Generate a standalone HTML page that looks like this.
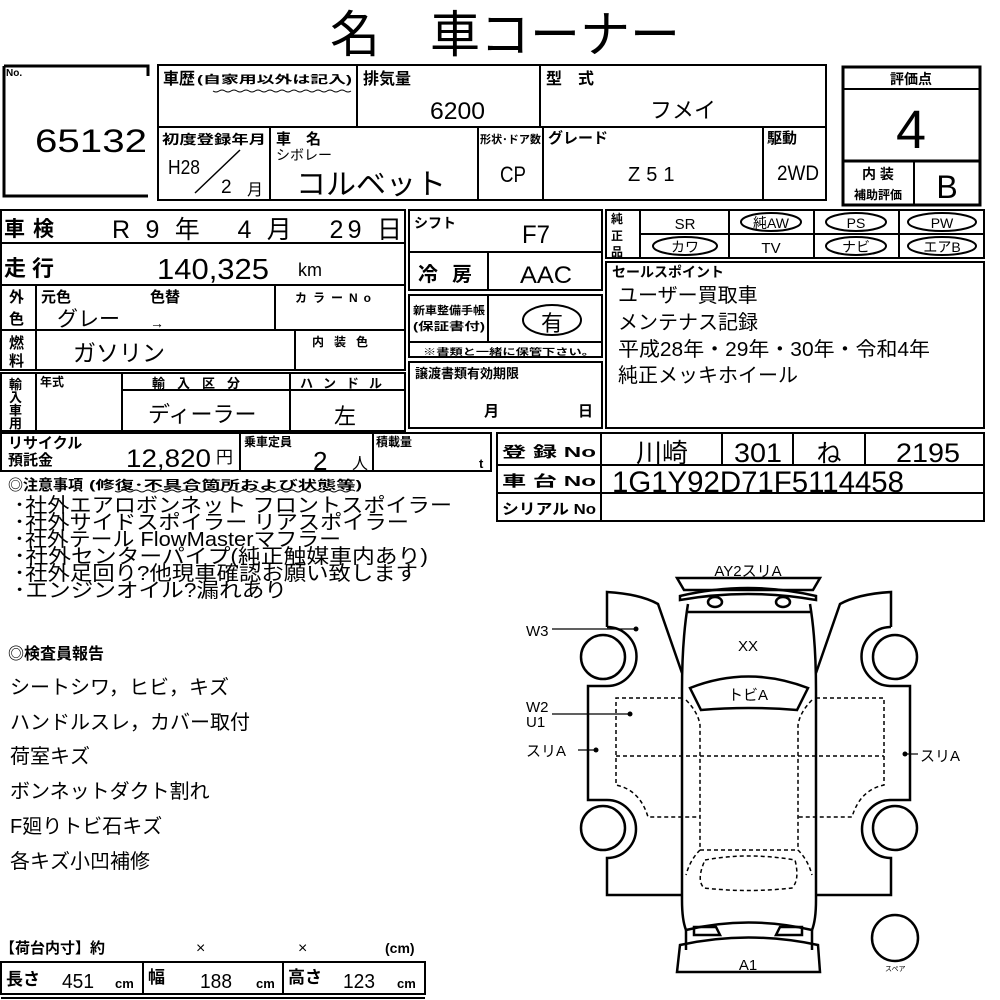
<!DOCTYPE html>
<html><head><meta charset="utf-8"><style>
html,body{margin:0;padding:0;background:#fff}
svg{display:block}
text{font-family:"Liberation Sans","Noto Sans CJK JP",sans-serif;fill:#000}
.b{font-weight:bold}
</style></head><body>
<svg width="1000" height="1000" viewBox="0 0 1000 1000" xmlns="http://www.w3.org/2000/svg">
<g fill="none" stroke="#000" stroke-width="2">
<path d="M4,66 H148 V76 M4,66 V196 H148" stroke-width="3"/>
<rect x="158" y="65" width="668" height="135"/>
<line x1="158" y1="127" x2="826" y2="127"/>
<line x1="357" y1="65" x2="357" y2="127"/>
<line x1="540" y1="65" x2="540" y2="127"/>
<line x1="270" y1="127" x2="270" y2="200"/>
<line x1="478" y1="127" x2="478" y2="200"/>
<line x1="543" y1="127" x2="543" y2="200"/>
<line x1="763" y1="127" x2="763" y2="200"/>
<line x1="195" y1="193" x2="240" y2="150" stroke-width="1.5"/>
<rect x="843" y="67" width="137" height="138" stroke-width="3"/>
<line x1="843" y1="89" x2="980" y2="89"/>
<line x1="843" y1="161" x2="980" y2="161" stroke-width="3"/>
<line x1="914" y1="161" x2="914" y2="205"/>
<rect x="1" y="210" width="404" height="160"/>
<line x1="1" y1="243" x2="405" y2="243"/>
<line x1="1" y1="285" x2="405" y2="285"/>
<line x1="1" y1="330" x2="405" y2="330"/>
<line x1="36" y1="285" x2="36" y2="370"/>
<line x1="275" y1="285" x2="275" y2="330"/>
<line x1="295" y1="330" x2="295" y2="370"/>
<rect x="1" y="373" width="404" height="58"/>
<line x1="36" y1="373" x2="36" y2="431"/>
<line x1="122" y1="373" x2="122" y2="431"/>
<line x1="290" y1="373" x2="290" y2="431"/>
<line x1="122" y1="390" x2="405" y2="390"/>
<rect x="409" y="210" width="193" height="80"/>
<line x1="409" y1="252" x2="602" y2="252"/>
<line x1="488" y1="252" x2="488" y2="290"/>
<rect x="409" y="295" width="193" height="62"/>
<line x1="409" y1="342" x2="602" y2="342"/>
<line x1="488" y1="295" x2="488" y2="342"/>
<ellipse cx="552" cy="320" rx="29" ry="15"/>
<rect x="409" y="362" width="193" height="66"/>
<rect x="606" y="210" width="378" height="48"/>
<line x1="640" y1="234" x2="984" y2="234"/>
<line x1="640" y1="210" x2="640" y2="258"/>
<line x1="729" y1="210" x2="729" y2="258"/>
<line x1="814" y1="210" x2="814" y2="258"/>
<line x1="899" y1="210" x2="899" y2="258"/>
<ellipse cx="771" cy="222" rx="30" ry="9"/>
<ellipse cx="856" cy="222" rx="30" ry="9"/>
<ellipse cx="942" cy="222" rx="34" ry="9"/>
<ellipse cx="685" cy="246" rx="32" ry="9"/>
<ellipse cx="856" cy="246" rx="30" ry="9"/>
<ellipse cx="942" cy="246" rx="34" ry="9"/>
<rect x="606" y="262" width="378" height="166"/>
<rect x="1" y="433" width="490" height="38"/>
<line x1="240" y1="433" x2="240" y2="471"/>
<line x1="373" y1="433" x2="373" y2="471"/>
<rect x="497" y="433" width="487" height="88"/>
<line x1="497" y1="465" x2="984" y2="465"/>
<line x1="497" y1="493" x2="984" y2="493"/>
<line x1="601" y1="433" x2="601" y2="521"/>
<line x1="722" y1="433" x2="722" y2="465"/>
<line x1="793" y1="433" x2="793" y2="465"/>
<line x1="865" y1="433" x2="865" y2="465"/>
<rect x="1" y="962" width="424" height="32"/>
<line x1="143" y1="962" x2="143" y2="994"/>
<line x1="283" y1="962" x2="283" y2="994"/>
<line x1="1" y1="998" x2="425" y2="998"/>
</g>
<path d="M213,91 q3,2 6,0 t6,0 t6,0 t6,0 t6,0 t6,0 t6,0 t6,0 t6,0 t6,0 t6,0 t6,0 t6,0 t6,0 t6,0 t6,0 t6,0 t6,0 t6,0 t6,0 t6,0 t6,0 t6,0" fill="none" stroke="#000" stroke-width="1"/>
<path d="M115,491 q3,2 6,0 t6,0 t6,0 t6,0 t6,0 t6,0 t6,0 t6,0 t6,0 t6,0 t6,0 t6,0 t6,0 t6,0 t6,0 t6,0 t6,0 t6,0 t6,0 t6,0 t6,0 t6,0 t6,0 t6,0 t6,0 t6,0 t6,0 t6,0 t6,0 t6,0 t6,0 t6,0 t6,0 t6,0 t6,0 t6,0 t6,0 t6,0 t6,0 t6,0" fill="none" stroke="#000" stroke-width="1"/>

<text x="505" y="52" font-size="50" text-anchor="middle">名　車コーナー</text>
<text x="6" y="76" font-size="10" class="b">No.</text>
<text x="35" y="152" font-size="32" textLength="112" lengthAdjust="spacingAndGlyphs">65132</text>
<text x="163" y="84" font-size="16" class="b">車歴</text>
<text x="197" y="83" font-size="11" class="b" textLength="155" lengthAdjust="spacingAndGlyphs">(自家用以外は記入)</text>
<text x="363" y="84" font-size="16" class="b">排気量</text>
<text x="430" y="119" font-size="24" textLength="55" lengthAdjust="spacingAndGlyphs">6200</text>
<text x="546" y="84" font-size="16" class="b">型　式</text>
<text x="650" y="118" font-size="22">フメイ</text>
<text x="162" y="144" font-size="13" class="b" textLength="104" lengthAdjust="spacingAndGlyphs">初度登録年月</text>
<text x="168" y="174" font-size="20" textLength="32" lengthAdjust="spacingAndGlyphs">H28</text>
<text x="221" y="193" font-size="19">2</text>
<text x="247" y="195" font-size="16">月</text>
<text x="276" y="144" font-size="15" class="b">車　名</text>
<text x="276" y="160" font-size="14">シボレー</text>
<text x="296" y="194" font-size="29" textLength="150" lengthAdjust="spacingAndGlyphs">コルベット</text>
<text x="480" y="143" font-size="11" class="b" textLength="61" lengthAdjust="spacingAndGlyphs">形状･ドア数</text>
<text x="500" y="182" font-size="22" textLength="26" lengthAdjust="spacingAndGlyphs">CP</text>
<text x="548" y="143" font-size="15" class="b">グレード</text>
<text x="628" y="181" font-size="20" letter-spacing="6">Z51</text>
<text x="767" y="143" font-size="15" class="b">駆動</text>
<text x="777" y="180" font-size="21" textLength="42" lengthAdjust="spacingAndGlyphs">2WD</text>
<text x="911" y="84" font-size="14" class="b" text-anchor="middle">評価点</text>
<text x="911" y="148" font-size="54" text-anchor="middle">4</text>
<text x="878" y="179" font-size="14" class="b" text-anchor="middle">内 装</text>
<text x="878" y="199" font-size="12" class="b" text-anchor="middle">補助評価</text>
<text x="947" y="198" font-size="32" text-anchor="middle">B</text>

<text x="4" y="236" font-size="21" class="b" letter-spacing="8">車検</text>
<text x="112" y="238" font-size="25" textLength="290" lengthAdjust="spacing" xml:space="preserve">R 9 年   4 月   29 日</text>
<text x="4" y="276" font-size="22" class="b" letter-spacing="6">走行</text>
<text x="157" y="279" font-size="29" textLength="112" lengthAdjust="spacingAndGlyphs">140,325</text>
<text x="298" y="276" font-size="18">km</text>
<text x="9" y="302" font-size="15" class="b">外</text>
<text x="9" y="324" font-size="15" class="b">色</text>
<text x="41" y="302" font-size="15" class="b">元色</text>
<text x="150" y="302" font-size="15" class="b">色替</text>
<text x="57" y="326" font-size="21">グレー</text>
<text x="150" y="328" font-size="14">→</text>
<text x="295" y="302" font-size="12" class="b" letter-spacing="6">カラーNo</text>
<text x="9" y="348" font-size="15" class="b">燃</text>
<text x="9" y="366" font-size="15" class="b">料</text>
<text x="73" y="361" font-size="23">ガソリン</text>
<text x="312" y="346" font-size="12" class="b" letter-spacing="10">内装色</text>
<text x="9" y="389" font-size="13" class="b">輸</text>
<text x="9" y="402" font-size="13" class="b">入</text>
<text x="9" y="415" font-size="13" class="b">車</text>
<text x="9" y="428" font-size="13" class="b">用</text>
<text x="40" y="386" font-size="12" class="b">年式</text>
<text x="152" y="388" font-size="13" class="b" letter-spacing="12">輸入区分</text>
<text x="300" y="388" font-size="13" class="b" letter-spacing="10">ハンドル</text>
<text x="148" y="422" font-size="22">ディーラー</text>
<text x="334" y="424" font-size="22">左</text>

<text x="414" y="228" font-size="14" class="b">シフト</text>
<text x="522" y="243" font-size="25" textLength="28" lengthAdjust="spacingAndGlyphs">F7</text>
<text x="418" y="281" font-size="20" class="b" letter-spacing="14">冷房</text>
<text x="520" y="283" font-size="24" textLength="52" lengthAdjust="spacingAndGlyphs">AAC</text>
<text x="413" y="314" font-size="11" class="b" textLength="72" lengthAdjust="spacingAndGlyphs">新車整備手帳</text>
<text x="413" y="330" font-size="11" class="b" textLength="72" lengthAdjust="spacingAndGlyphs">(保証書付)</text>
<text x="552" y="331" font-size="22" text-anchor="middle">有</text>
<text x="423" y="355" font-size="9" class="b" textLength="172" lengthAdjust="spacingAndGlyphs">※書類と一緒に保管下さい。</text>
<text x="415" y="378" font-size="13" class="b">譲渡書類有効期限</text>
<text x="484" y="416" font-size="15" class="b">月</text>
<text x="578" y="416" font-size="15" class="b">日</text>

<text x="611" y="223" font-size="12" class="b">純</text>
<text x="611" y="240" font-size="12" class="b">正</text>
<text x="611" y="256" font-size="12" class="b">品</text>
<text x="685" y="229" font-size="15" text-anchor="middle">SR</text>
<text x="771" y="228" font-size="14" text-anchor="middle">純AW</text>
<text x="856" y="228" font-size="14" text-anchor="middle">PS</text>
<text x="942" y="228" font-size="14" text-anchor="middle">PW</text>
<text x="685" y="252" font-size="14" text-anchor="middle">カワ</text>
<text x="771" y="253" font-size="15" text-anchor="middle">TV</text>
<text x="856" y="252" font-size="14" text-anchor="middle">ナビ</text>
<text x="942" y="252" font-size="14" text-anchor="middle">エアB</text>
<text x="612" y="277" font-size="14" class="b">セールスポイント</text>
<text x="618" y="302" font-size="20">ユーザー買取車</text>
<text x="618" y="329" font-size="20">メンテナス記録</text>
<text x="618" y="356" font-size="20" textLength="312" lengthAdjust="spacingAndGlyphs">平成28年・29年・30年・令和4年</text>
<text x="618" y="382" font-size="20">純正メッキホイール</text>

<text x="8" y="448" font-size="15" class="b">リサイクル</text>
<text x="8" y="465" font-size="15" class="b">預託金</text>
<text x="126" y="467" font-size="25" textLength="85" lengthAdjust="spacingAndGlyphs">12,820</text>
<text x="216" y="463" font-size="17">円</text>
<text x="244" y="446" font-size="12" class="b">乗車定員</text>
<text x="313" y="470" font-size="26">2</text>
<text x="352" y="469" font-size="16">人</text>
<text x="376" y="446" font-size="12" class="b">積載量</text>
<text x="479" y="468" font-size="13" class="b">t</text>
<text x="502" y="457" font-size="15" class="b" textLength="94" lengthAdjust="spacingAndGlyphs">登 録 No</text>
<text x="502" y="486" font-size="15" class="b" textLength="94" lengthAdjust="spacingAndGlyphs">車 台 No</text>
<text x="502" y="514" font-size="15" class="b" textLength="94" lengthAdjust="spacingAndGlyphs">シリアル No</text>
<text x="662" y="462" font-size="26" text-anchor="middle">川崎</text>
<text x="758" y="462" font-size="27" text-anchor="middle" textLength="48" lengthAdjust="spacingAndGlyphs">301</text>
<text x="829" y="462" font-size="25" text-anchor="middle">ね</text>
<text x="960" y="462" font-size="27" text-anchor="end" textLength="64" lengthAdjust="spacingAndGlyphs">2195</text>
<text x="612" y="492" font-size="30" textLength="292" lengthAdjust="spacingAndGlyphs">1G1Y92D71F5114458</text>

<text x="8" y="490" font-size="15" class="b">◎注意事項</text>
<text x="89" y="489" font-size="12" class="b" textLength="273" lengthAdjust="spacingAndGlyphs">(修復･不具合箇所および状態等)</text>
<g font-size="20">
<text x="14" y="512" textLength="438" lengthAdjust="spacingAndGlyphs">･社外エアロボンネット フロントスポイラー</text>
<text x="14" y="529" textLength="395" lengthAdjust="spacingAndGlyphs">･社外サイドスポイラー リアスポイラー</text>
<text x="14" y="546" textLength="327" lengthAdjust="spacingAndGlyphs">･社外テール FlowMasterマフラー</text>
<text x="14" y="563" textLength="414" lengthAdjust="spacingAndGlyphs">･社外センターパイプ(純正触媒車内あり)</text>
<text x="14" y="580" textLength="404" lengthAdjust="spacingAndGlyphs">･社外足回り?他現車確認お願い致します</text>
<text x="14" y="597" textLength="273" lengthAdjust="spacingAndGlyphs">･エンジンオイル?漏れあり</text>
</g>
<text x="8" y="659" font-size="16" class="b">◎検査員報告</text>
<g font-size="20">
<text x="10" y="694">シートシワ，ヒビ，キズ</text>
<text x="10" y="729">ハンドルスレ，カバー取付</text>
<text x="10" y="763">荷室キズ</text>
<text x="10" y="798">ボンネットダクト割れ</text>
<text x="10" y="833">F廻りトビ石キズ</text>
<text x="10" y="868">各キズ小凹補修</text>
</g>
<text x="0" y="953" font-size="15" class="b">【荷台内寸】約</text>
<text x="196" y="953" font-size="16">×</text>
<text x="298" y="953" font-size="16">×</text>
<text x="385" y="953" font-size="14" class="b">(cm)</text>
<text x="6" y="985" font-size="17" class="b">長さ</text>
<text x="62" y="988" font-size="20" textLength="32" lengthAdjust="spacingAndGlyphs">451</text>
<text x="115" y="988" font-size="13" class="b">cm</text>
<text x="148" y="983" font-size="17" class="b">幅</text>
<text x="200" y="988" font-size="20" textLength="32" lengthAdjust="spacingAndGlyphs">188</text>
<text x="256" y="988" font-size="13" class="b">cm</text>
<text x="288" y="983" font-size="17" class="b">高さ</text>
<text x="343" y="988" font-size="20" textLength="32" lengthAdjust="spacingAndGlyphs">123</text>
<text x="397" y="988" font-size="13" class="b">cm</text>

<g fill="none" stroke="#000" stroke-width="2.5">
<path d="M677,578 H820 L813,590 H684 Z"/>
<path d="M680,596 Q748,580 816,596 L816,600 Q748,588 680,600 Z"/>
<ellipse cx="715" cy="602" rx="7" ry="5"/>
<ellipse cx="783" cy="602" rx="7" ry="5"/>
<line x1="688" y1="612" x2="810" y2="612"/>
<path d="M688,604 Q682,640 682,690 V900 Q682,920 686,930 Q748,915 812,930 Q816,920 816,900 V690 Q816,640 810,604"/>
<path d="M686,930 V950 M812,930 V950"/>
<path d="M680,945 Q748,930 818,945 L820,972 H677 Z"/>
<path d="M694,927 h22 l4,8 h-26 Z"/>
<path d="M780,927 h22 v8 h-26 Z"/>
<path d="M690,688 Q748,665 808,688 L797,710 Q748,706 701,710 Z"/>
<path d="M682,673 L658,604 Q640,594 607,592 V627"/>
<path d="M607,627 A29,29 0 0 1 607,686 V686 H588 V800 H607 A29,29 0 0 1 607,858 V895 H682"/>
<circle cx="603" cy="657" r="22"/>
<circle cx="603" cy="828" r="22"/>
<path d="M816,673 L840,604 Q858,594 891,592 V627"/>
<path d="M891,627 A29,29 0 0 0 891,686 H910 V800 H891 A29,29 0 0 0 891,858 V895 H816"/>
<circle cx="895" cy="657" r="22"/>
<circle cx="895" cy="828" r="22"/>
<circle cx="895" cy="938" r="23"/>
</g>
<g fill="none" stroke="#000" stroke-width="1.5" stroke-dasharray="4,3">
<path d="M682,698 H616 V785 Q640,790 648,817 H700"/>
<path d="M816,698 H884 V785 Q860,790 852,817 H798"/>
<line x1="616" y1="756" x2="884" y2="756"/>
<path d="M686,700 Q698,712 700,725 V850 Q690,860 686,875"/>
<path d="M812,700 Q800,712 798,725 V850 Q808,860 812,875"/>
<path d="M700,850 H798"/>
<path d="M705,860 Q748,852 795,860 Q800,880 792,888 Q748,893 704,888 Q696,880 705,860 Z"/>
</g>
<g stroke="#000" stroke-width="1.2">
<line x1="552" y1="629" x2="636" y2="629"/>
<line x1="552" y1="714" x2="630" y2="714"/>
<line x1="578" y1="750" x2="596" y2="750"/>
<line x1="905" y1="754" x2="918" y2="754"/>
</g>
<g fill="#000">
<circle cx="636" cy="629" r="2.5"/>
<circle cx="630" cy="714" r="2.5"/>
<circle cx="596" cy="750" r="2.5"/>
<circle cx="905" cy="754" r="2.5"/>
</g>
<g font-size="15">
<text x="748" y="576" text-anchor="middle">AY2スリA</text>
<text x="748" y="651" text-anchor="middle">XX</text>
<text x="748" y="700" text-anchor="middle">トビA</text>
<text x="526" y="636">W3</text>
<text x="526" y="712">W2</text>
<text x="526" y="727">U1</text>
<text x="526" y="756">スリA</text>
<text x="920" y="761">スリA</text>
<text x="748" y="970" text-anchor="middle">A1</text>
<text x="885" y="971" font-size="7">スペア</text>
</g>
</svg>
</body></html>
